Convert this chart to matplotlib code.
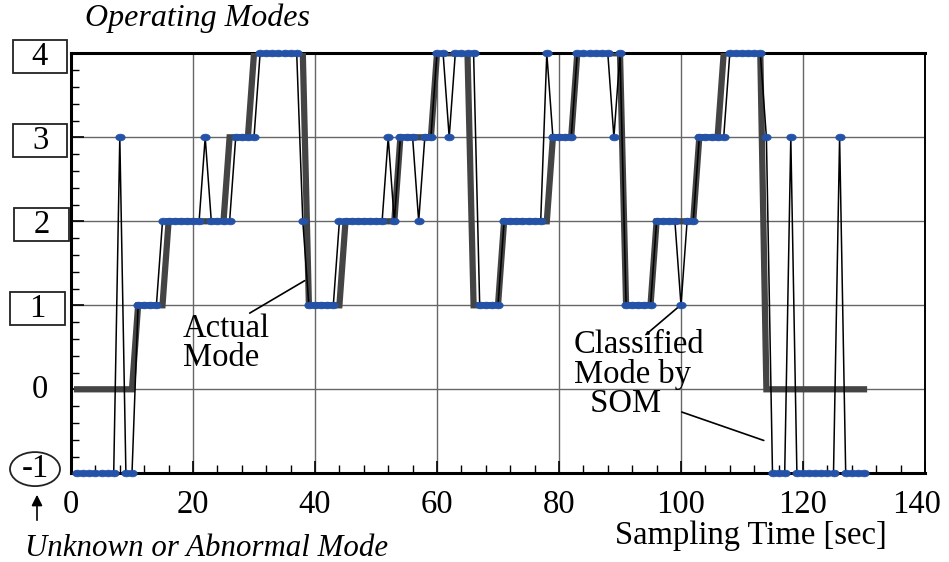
import numpy as np
import matplotlib
matplotlib.use("Agg")
import matplotlib.pyplot as plt
import matplotlib.transforms as mtransforms
from matplotlib.patches import Rectangle, Ellipse
from matplotlib.ticker import MultipleLocator

plt.rcParams['font.family'] = ['Liberation Serif', 'DejaVu Serif']

# Sampling times (sec)
t = np.arange(1, 131)

# Actual operating mode, as run lengths (mode, number of samples)
actual_runs = [(0, 10), (1, 5), (2, 10), (3, 4), (4, 9), (1, 6), (2, 9), (3, 6),
               (4, 6), (1, 5), (2, 8), (3, 4), (4, 8), (1, 5), (2, 7), (3, 4),
               (4, 7), (0, 17)]

# Mode classified by the SOM (-1 = unknown / abnormal)
som_runs = [(-1, 7), (3, 1), (-1, 2), (1, 4), (2, 7), (3, 1), (2, 4), (3, 4),
            (4, 7), (2, 1), (1, 5), (2, 8), (3, 1), (2, 1), (3, 3), (2, 1),
            (3, 2), (4, 2), (3, 1), (4, 4), (1, 4), (2, 7), (4, 1), (3, 4),
            (4, 6), (3, 1), (4, 1), (1, 5), (2, 4), (1, 1), (2, 2), (3, 5),
            (4, 6), (3, 1), (-1, 3), (3, 1), (-1, 7), (3, 1), (-1, 4)]

actual = np.concatenate([[m] * n for m, n in actual_runs])
som = np.concatenate([[m] * n for m, n in som_runs])

x_ticks = [0, 20, 40, 60, 80, 100, 120, 140]
y_labels = ['-1', '0', '1', '2', '3', '4']

FS = 23.5

fig = plt.figure(figsize=(9.49, 5.62), dpi=100)
W, H = 949, 562
ax = fig.add_axes([71 / W, 1 - 473.3 / H, 854 / W, 420 / H])

# slightly flattened dot marker, like the original
ang = np.linspace(0, 2 * np.pi, 40)
dot = np.column_stack([1.4 * np.cos(ang), np.sin(ang)])

# Thick gray = actual mode, thin black + blue dots = classified mode
ax.plot(t, actual, color='#444444', lw=4.5, solid_joinstyle='miter', zorder=3)
ax.plot(t, som, color='black', lw=1.1, zorder=4,
        marker=dot, ms=6.8, mfc='#2352a8', mec='#2352a8', mew=0.5, clip_on=False)

ax.set_xlim(0, 140)
ax.set_ylim(-1, 4)
ax.set_xticks(x_ticks)
ax.xaxis.set_minor_locator(MultipleLocator(4))
ax.set_yticks(range(-1, 5))
ax.yaxis.set_minor_locator(MultipleLocator(0.2))
ax.set_yticklabels([])
ax.tick_params(axis='both', which='major', direction='in', length=9, width=1.2,
               labelsize=FS, pad=12)
ax.tick_params(axis='both', which='minor', direction='in', length=6, width=1.0)
ax.tick_params(axis='x', which='both', top=False)
ax.tick_params(axis='y', which='both', right=False)

# last label sits a little to the left, inside the picture
last = ax.get_xticklabels()[-1]
last.set_transform(last.get_transform() +
                   mtransforms.ScaledTranslation(-6 / 72, 0, fig.dpi_scale_trans))

for v in x_ticks[1:-1]:
    ax.axvline(v, color='#666666', lw=1.0, zorder=1)
for v in [0, 1, 2, 3]:
    ax.axhline(v, color='#666666', lw=1.0, zorder=1)

for side in ['left', 'bottom', 'top']:
    ax.spines[side].set_linewidth(2.2)
ax.spines['right'].set_linewidth(1.4)

# y tick labels in boxes / ellipse
trans = mtransforms.blended_transform_factory(fig.transFigure, ax.transData)
ppu = 84.0  # pixels per y unit
boxes = {4: (13, 67), 3: (13, 67), 2: (14, 69), 1: (10, 65)}
for lab in y_labels:
    v = int(lab)
    if v in boxes:
        x0, x1 = boxes[v]
        ax.add_patch(Rectangle((x0 / W, v - 0.04 - 16.5 / ppu), (x1 - x0) / W, 33 / ppu,
                               transform=trans, fill=False, ec='#222222', lw=1.3,
                               clip_on=False))
        ax.text((x0 + x1) / 2 / W, v - 0.04, lab, transform=trans, ha='center',
                va='center', fontsize=FS)
    elif v == -1:
        ax.add_patch(Ellipse((35 / W, -0.95), 50 / W, 34 / ppu, transform=trans,
                             fill=False, ec='#222222', lw=1.3, clip_on=False))
        ax.text(35 / W, -0.95, lab, transform=trans, ha='center', va='center',
                fontsize=FS)
    else:
        ax.text(40 / W, v, lab, transform=trans, ha='center', va='center', fontsize=FS)

fig.text(85 / W, 1 - 18 / H, 'Operating Modes', style='italic', fontsize=23,
         ha='left', va='center')
fig.text(25 / W, 1 - 549 / H, 'Unknown or Abnormal Mode', style='italic',
         fontsize=22.2, ha='left', va='center')
fig.text(751 / W, 1 - 536 / H, 'Sampling Time [sec]', fontsize=FS,
         ha='center', va='center')
ax.annotate('', xy=(37, H - 492), xycoords='figure pixels',
            xytext=(37, H - 523), textcoords='figure pixels',
            arrowprops=dict(arrowstyle='-|>', color='black', lw=1.2,
                            mutation_scale=16))

# annotations
ax.text(18.3, 0.55, 'Actual\nMode', fontsize=FS, ha='left', va='center',
        linespacing=0.95)
ax.annotate('', xy=(38.7, 1.31), xytext=(28.9, 0.89),
            arrowprops=dict(arrowstyle='-', color='black', lw=1.2))
ax.text(82.4, 0.18, 'Classified\nMode by\n  SOM', fontsize=FS, ha='left',
        va='center', linespacing=0.95)
ax.annotate('', xy=(99.9, 1.0), xytext=(93.9, 0.63),
            arrowprops=dict(arrowstyle='-', color='black', lw=1.2))
ax.annotate('', xy=(114.0, -0.62), xytext=(99.7, -0.26),
            arrowprops=dict(arrowstyle='-', color='black', lw=1.2))

fig.savefig('out.png', dpi=100)
